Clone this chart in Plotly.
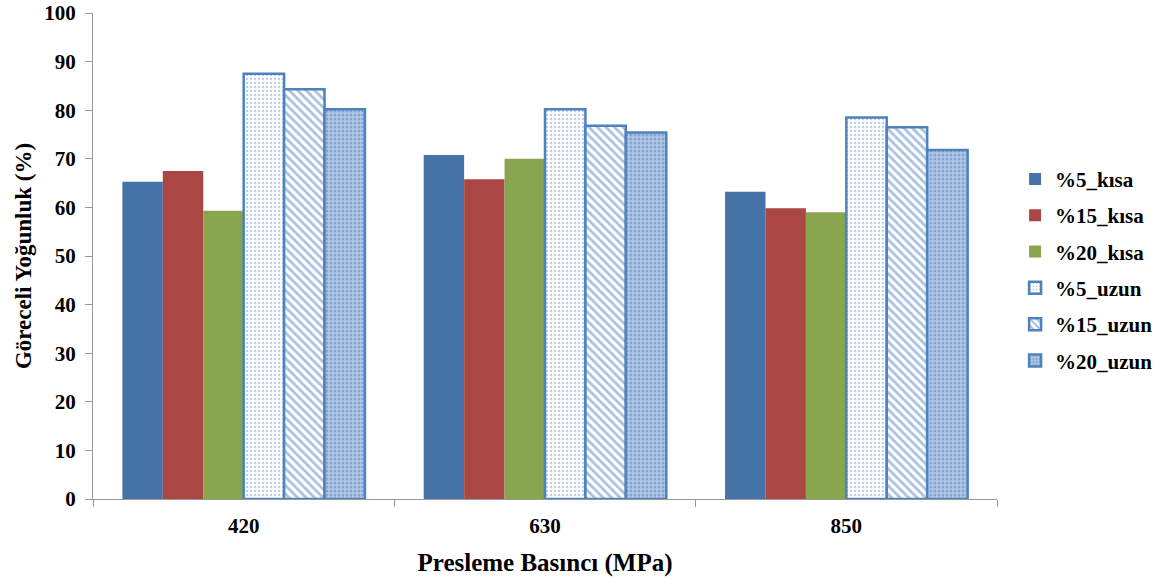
import plotly.graph_objects as go

categories = ["420", "630", "850"]
series_names = ["%5_kısa", "%15_kısa", "%20_kısa", "%5_uzun", "%15_uzun", "%20_uzun"]
v5_kisa = [65.3, 70.8, 63.2]
v15_kisa = [67.5, 65.8, 59.8]
v20_kisa = [59.3, 70.0, 59.0]
v5_uzun = [87.5, 80.2, 78.5]
v15_uzun = [84.3, 76.8, 76.5]
v20_uzun = [80.2, 75.4, 71.8]
y_ticks = list(range(0, 101, 10))

values = [v5_kisa, v15_kisa, v20_kisa, v5_uzun, v15_uzun, v20_uzun]
solid_colors = ["#4572A7", "#AA4643", "#89A54E"]
blue = "#4F81BD"
patterns = [
    dict(shape=".", fgcolor="#7EA0CF", bgcolor="white", size=4, solidity=0.3),
    dict(shape="\\", fgcolor=blue, bgcolor="white", size=6, solidity=0.45),
    dict(shape=".", fgcolor="#4F81BD", bgcolor="#B4C8E4", size=4, solidity=0.45),
]

font = "Liberation Serif"
bold = dict(family=font, color="black", weight="bold")
fig = go.Figure()
for i, (name, vals) in enumerate(zip(series_names, values)):
    if i < 3:
        marker = dict(color=solid_colors[i], line=dict(width=0))
    else:
        marker = dict(color="white", pattern=patterns[i - 3],
                      line=dict(color=blue, width=2.5))
    fig.add_trace(go.Bar(x=categories, y=vals, name=name, marker=marker,
                         legendgroup=f"g{i}"))

fig.update_layout(
    width=1170, height=584,
    margin=dict(l=93, r=170, t=13, b=85),
    paper_bgcolor="white", plot_bgcolor="white",
    barmode="group", bargap=0.195, bargroupgap=0,
    font=dict(family=font, size=20, color="black"),
    legend=dict(x=1.02, y=0.70, xanchor="left", yanchor="top",
                font=dict(**bold, size=21),
                tracegroupgap=6, itemwidth=30),
    xaxis=dict(type="category", showline=True, linecolor="#999999", linewidth=1,
               ticks="outside", tickson="boundaries", ticklen=7, tickcolor="#999999",
               tickfont=dict(**bold, size=21), ticklabelstandoff=8,
               title=dict(text="Presleme Basıncı (MPa)", standoff=16,
                          font=dict(**bold, size=25)),
               showgrid=False, automargin=False),
    yaxis=dict(range=[0, 100], tickvals=y_ticks, showline=True, linecolor="#999999",
               linewidth=1, ticks="outside", ticklen=7, tickcolor="#999999",
               tickfont=dict(**bold, size=21), ticklabelstandoff=5,
               title=dict(text="Göreceli Yoğunluk (%)", standoff=6,
                          font=dict(**bold, size=23)),
               showgrid=False, zeroline=False, automargin=False),
)

fig.write_html("out.html")
